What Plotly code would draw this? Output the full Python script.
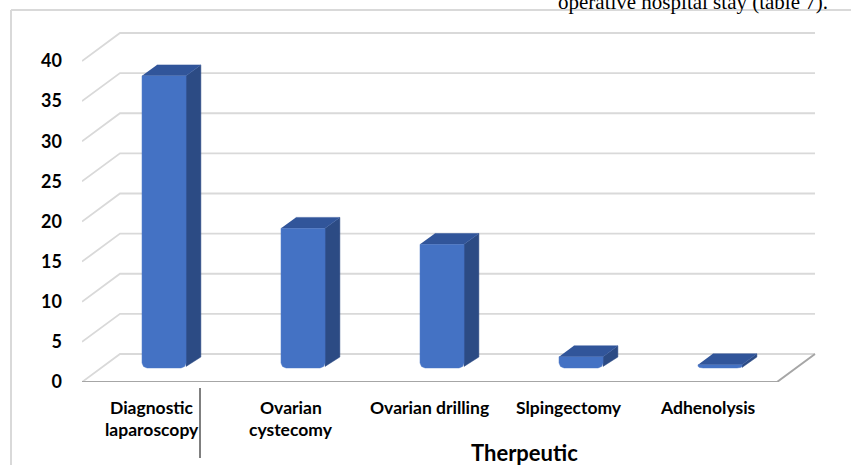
import plotly.graph_objects as go

# ---- data -------------------------------------------------------------
categories = ["Diagnostic<br>laparoscopy", "Ovarian<br>cystecomy",
              "Ovarian drilling", "Slpingectomy", "Adhenolysis"]
values = [37, 18, 16, 2, 1]
y_ticks = [0, 5, 10, 15, 20, 25, 30, 35, 40]
axis_title = "Therpeutic"
caption = "operative hospital stay (table 7)."

# ---- layout geometry (pixels) ----------------------------------------
FIG_W, FIG_H = 851, 465
M_L, M_R, M_T, M_B = 82, 21, 25, 83
PW, PH = FIG_W - M_L - M_R, FIG_H - M_T - M_B
PX_PER_CAT = 139.0          # horizontal size of one category slot
PX_PER_UNIT = 8.025         # vertical size of one value unit
X0 = -0.5
X1 = X0 + PW / PX_PER_CAT
Y1 = PH / PX_PER_UNIT

# oblique depth of the floor / walls, in axis units
DEPTH_X = 38 / PX_PER_CAT
DEPTH_Y = 28 / PX_PER_UNIT
BAR_FRONT, BAR_BACK = 0.33, 0.72     # bar depth, as fractions of floor depth
BAR_W = 44 / PX_PER_CAT
BEVEL = 0.6                          # rounded bottom lift

def px_x(p):
    return (p - M_L) / PW

def px_y(p):
    return (FIG_H - M_B - p) / PH

fig = go.Figure()

# ---- walls: oblique grid lines ---------------------------------------
n = len(categories)
gx, gy = [], []
for v in y_ticks:
    gx += [X0, X0 + DEPTH_X, X0 + n + DEPTH_X, None]
    gy += [v, v + DEPTH_Y, v + DEPTH_Y, None]
fig.add_trace(go.Scatter(x=gx, y=gy, mode="lines",
                         line=dict(color="#d9d9d9", width=1.8),
                         hoverinfo="skip", showlegend=False))
# floor front edge and right edge
fig.add_trace(go.Scatter(x=[X0, X0 + n, X0 + n + DEPTH_X],
                         y=[0, 0, DEPTH_Y], mode="lines",
                         line=dict(color="#a6a6a6", width=2),
                         hoverinfo="skip", showlegend=False))

# ---- 3-D looking bars --------------------------------------------------
fa = BAR_FRONT
dx = (BAR_BACK - BAR_FRONT) * DEPTH_X
dy = (BAR_BACK - BAR_FRONT) * DEPTH_Y
rx, ry = 5 / PX_PER_CAT, 5 / PX_PER_UNIT

front_x, front_y, side_x, side_y, top_x, top_y = [], [], [], [], [], []
for i, v in enumerate(values):
    xc = i + fa * DEPTH_X
    xl, xr = xc - BAR_W / 2, xc + BAR_W / 2
    yb = fa * DEPTH_Y + min(BEVEL, v * 0.6)
    yt = fa * DEPTH_Y + v
    r_y = min(ry, (yt - yb) / 2)
    # front face with rounded bottom corners
    front_x += [xl, xl, xl + rx * 0.3, xl + rx, xr - rx, xr - rx * 0.3, xr, xr, None]
    front_y += [yt, yb + r_y, yb + r_y * 0.3, yb, yb, yb + r_y * 0.3, yb + r_y, yt, None]
    # right side face
    side_x += [xr, xr, xr + dx, xr + dx, None]
    side_y += [yt, yb + r_y * 0.3, yb + dy, yt + dy, None]
    # top face
    top_x += [xl, xr, xr + dx, xl + dx, None]
    top_y += [yt, yt, yt + dy, yt + dy, None]

for xs, ys, col in [(side_x, side_y, "#2c4b84"),
                    (top_x, top_y, "#31559a"),
                    (front_x, front_y, "#4472c4")]:
    fig.add_trace(go.Scatter(x=xs, y=ys, mode="lines", fill="toself",
                             fillcolor=col, line=dict(color=col, width=0.5),
                             hoverinfo="skip", showlegend=False))

# ---- category labels ---------------------------------------------------
lab_font = dict(family="Lato", size=17.5, color="black", weight="bold")
for i, name in enumerate(categories):
    for k, line in enumerate(name.split("<br>")):
        fig.add_annotation(x=i, xref="x", y=0, yref="paper",
                           text=line, showarrow=False,
                           font=lab_font, xanchor="center", yanchor="middle",
                           yshift=-25 - 22 * k)

fig.add_annotation(x=px_x(524), xref="paper", y=0, yref="paper",
                   text=axis_title, showarrow=False,
                   font=dict(family="Lato", size=22, color="black", weight="bold"),
                   xanchor="center", yanchor="middle", yshift=-70)

fig.add_annotation(x=px_x(829), xref="paper", y=px_y(15), yref="paper",
                   text=caption, showarrow=False,
                   font=dict(family="Liberation Serif", size=21, color="black"),
                   xanchor="right", yanchor="bottom", borderpad=0)

# ---- chart frame and separator ----------------------------------------
frame = dict(color="#d9d9d9", width=2)
fig.add_shape(type="line", xref="paper", yref="paper",
              x0=px_x(11), x1=px_x(11), y0=px_y(10), y1=px_y(470), line=frame)
fig.add_shape(type="line", xref="paper", yref="paper",
              x0=px_x(11), x1=px_x(860), y0=px_y(10), y1=px_y(10), line=frame)
fig.add_shape(type="line", xref="paper", yref="paper",
              x0=px_x(200), x1=px_x(200), y0=px_y(388), y1=px_y(458),
              line=dict(color="black", width=1))

fig.update_layout(
    width=FIG_W, height=FIG_H,
    margin=dict(l=M_L, r=M_R, t=M_T, b=M_B),
    paper_bgcolor="white", plot_bgcolor="white",
    showlegend=False,
    xaxis=dict(range=[X0, X1], showgrid=False, zeroline=False,
               showticklabels=False, showline=False, fixedrange=True),
    yaxis=dict(range=[0, Y1], showgrid=False, zeroline=False, showline=False,
               tickmode="array", tickvals=y_ticks,
               ticktext=[str(t) for t in y_ticks],
               tickfont=dict(family="Lato", size=18, color="black", weight="bold"),
               ticklabelstandoff=19, fixedrange=True),
)

fig.write_html("out.html")
